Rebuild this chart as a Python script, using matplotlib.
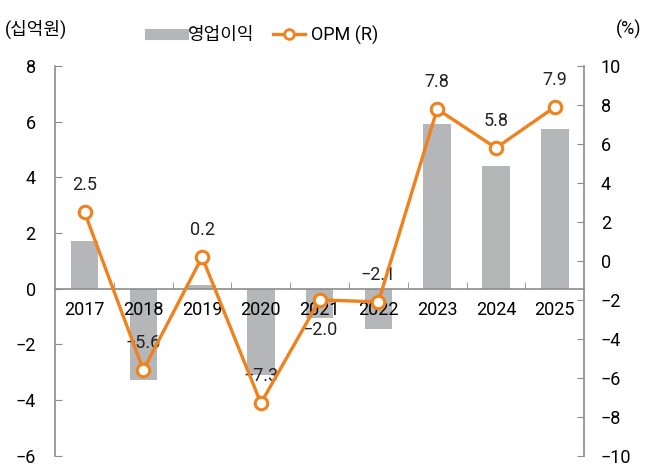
import matplotlib
matplotlib.use("Agg")
import matplotlib.pyplot as plt
from matplotlib.lines import Line2D
import numpy as np

plt.rcParams['font.family'] = ['Roboto', 'Noto Sans CJK KR', 'DejaVu Sans']
plt.rcParams['font.size'] = 13

years = ['2017', '2018', '2019', '2020', '2021', '2022', '2023', '2024', '2025']
op_profit = [1.73, -3.27, 0.12, -3.1, -1.05, -1.43, 5.93, 4.43, 5.76]
opm = [2.5, -5.6, 0.2, -7.3, -2.0, -2.1, 7.8, 5.8, 7.9]
label_below = [False, False, False, False, True, False, False, False, False]

bar_color = '#b5b6b8'
line_color = '#f0821e'
axis_color = '#8c8c8c'

fig = plt.figure(figsize=(6.49, 4.66), dpi=100)
ax1 = fig.add_axes([0.085, 0.022, 0.815, 0.836])
ax2 = ax1.twinx()

x = np.arange(len(years))
ax1.bar(x, op_profit, width=0.47, color=bar_color, zorder=1)
ax1.set_axisbelow(False)
ax1.set_xlim(-0.5, len(years) - 0.5)
ax1.set_ylim(-6, 8)
ax1.set_yticks(range(-6, 9, 2))

ax2.plot(x, opm, color=line_color, lw=2.4, marker='o', ms=9,
         mfc='white', mec=line_color, mew=2.2, zorder=5)
ax2.set_ylim(-10, 10)
ax2.set_yticks(range(-10, 11, 2))

for xi, v, below in zip(x, opm, label_below):
    off = -15 if below else 13
    ax2.annotate(f'{v:.1f}'.replace('-', '\u2212'), (xi, v), xytext=(0, off),
                 textcoords='offset points', ha='center',
                 va='top' if below else 'bottom', fontsize=13, color='#222222')

# x axis at zero, ticks between categories
ax1.spines['bottom'].set_position(('data', 0))
ax1.set_xticks(x)
ax1.set_xticklabels(years)
ax1.tick_params(axis='x', which='major', length=0, pad=9, labelsize=13)
ax1.set_xticks(np.arange(0.5, len(years) - 1, 1), minor=True)
ax1.tick_params(axis='x', which='minor', direction='in', length=5, color=axis_color)

for ax in (ax1, ax2):
    ax.spines['top'].set_visible(False)
    for s in ('left', 'right', 'bottom'):
        ax.spines[s].set_color(axis_color)
        ax.spines[s].set_linewidth(1.2)
ax2.spines['bottom'].set_visible(False)
ax1.spines['right'].set_visible(False)
ax2.spines['left'].set_visible(False)

ax1.tick_params(axis='y', direction='in', length=5, color=axis_color, labelsize=13, pad=14)
ax2.tick_params(axis='y', direction='in', length=5, color=axis_color, labelsize=13, pad=12)

fig.text(0.008, 0.937, '(십억원)', fontsize=13, ha='left', va='center')
fig.text(0.988, 0.937, '(%)', fontsize=13, ha='right', va='center')

handles = [Line2D([], [], color=bar_color, lw=8),
           Line2D([], [], color=line_color, lw=2.4, marker='o', ms=7,
                  mfc='white', mec=line_color, mew=2)]
fig.legend(handles, ['영업이익', 'OPM (R)'], loc='center', bbox_to_anchor=(0.407, 0.925),
           ncol=2, frameon=False, fontsize=13, handlelength=1.8,
           columnspacing=1.0, handletextpad=0.3)

fig.savefig('out.png', dpi=100)
